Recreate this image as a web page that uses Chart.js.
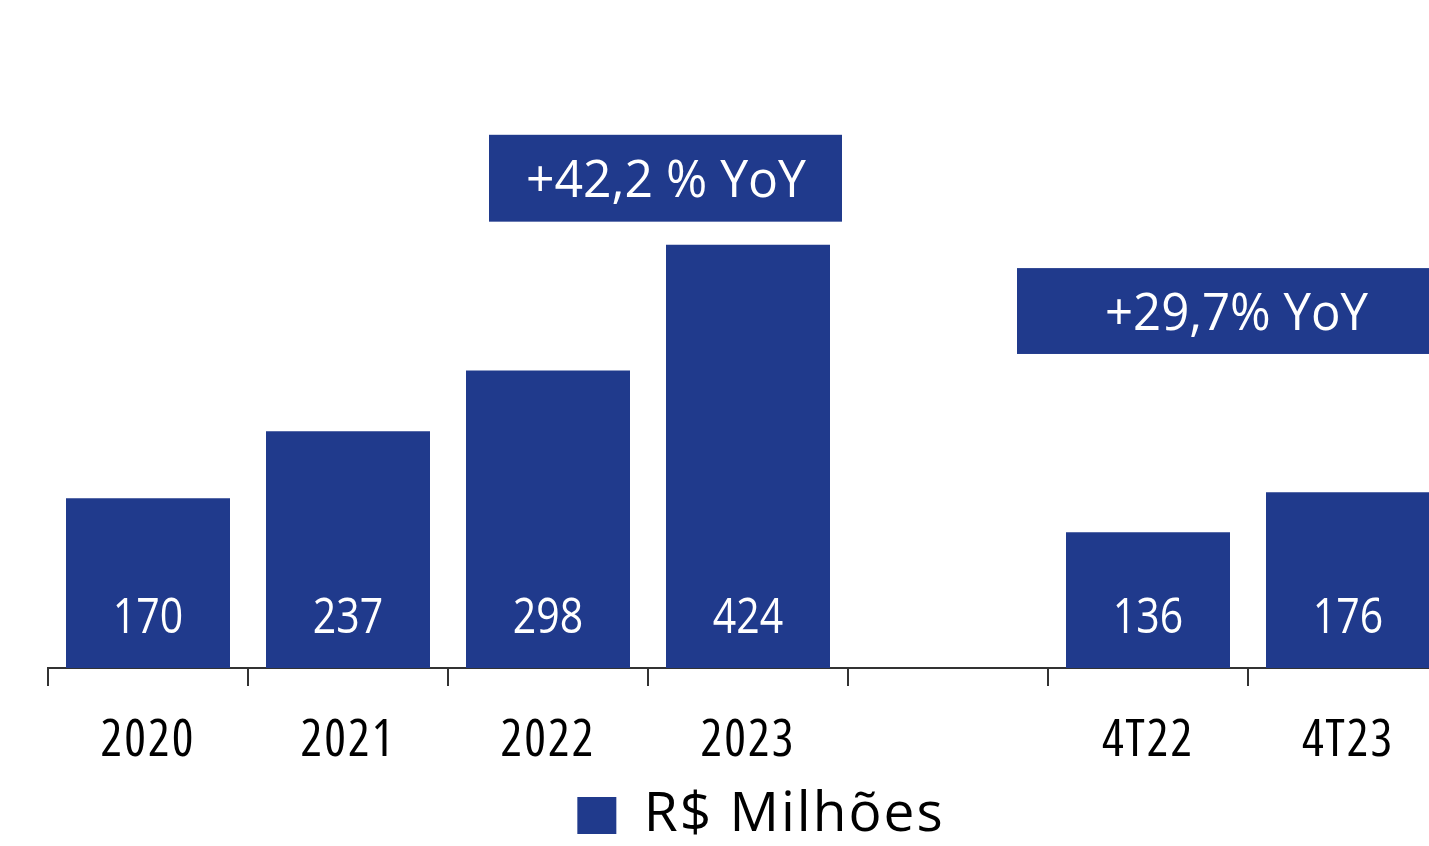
<!DOCTYPE html>
<html>
<head>
<meta charset="utf-8">
<script src="https://cdn.jsdelivr.net/npm/chart.js@4/dist/chart.umd.min.js"></script>
<style>
  html, body { margin: 0; padding: 0; background: #fff; overflow: hidden; }
  #wrap { width: 1454px; height: 846px; }
</style>
</head>
<body>
<div id="wrap"><canvas id="c" width="1454" height="846"></canvas></div>
<script>
// Receita anual e trimestral (R$ milhões)
const categories = ['2020', '2021', '2022', '2023', '', '4T22', '4T23'];
const revenue = [170, 237, 298, 424, null, 136, 176];
const seriesName = 'R$ Milhões';
const growthLabels = ['+42,2 % YoY', '+29,7% YoY'];

const BLUE = '#203A8C';
const FAMILY = '"Open Sans", "Noto Sans", sans-serif';

// Growth call-outs, placed in scale units (category index / value)
const callouts = [
  { text: growthLabels[0], xMin: 1.705, xMax: 3.47, yMin: 447, yMax: 534, textX: 2.59, width: 280 },
  { text: growthLabels[1], xMin: 4.345, xMax: 6.6, yMin: 314.5, yMax: 400.5, textX: 5.4425, width: 263 }
];

// Draws text horizontally condensed so it fits the given width
function condensedText(ctx, text, cx, baseline, maxWidth) {
  const w = ctx.measureText(text).width;
  const sx = Math.min(1, maxWidth / w);
  ctx.save();
  ctx.translate(cx, baseline);
  ctx.scale(sx, 1);
  ctx.fillText(text, 0, 0);
  ctx.restore();
}

// Slight tracking for axis and legend labels
const tracking = {
  id: 'tracking',
  beforeDraw(chart) { if ('letterSpacing' in chart.ctx) chart.ctx.letterSpacing = '2px'; },
  afterDraw(chart) { if ('letterSpacing' in chart.ctx) chart.ctx.letterSpacing = '0px'; }
};

const overlay = {
  id: 'overlay',
  afterDatasetsDraw(chart) {
    const { ctx, scales: { x, y } } = chart;
    const meta = chart.getDatasetMeta(0);
    const base = y.getPixelForValue(0);
    ctx.save();
    if ('letterSpacing' in ctx) ctx.letterSpacing = '0px';
    ctx.textAlign = 'center';
    ctx.textBaseline = 'alphabetic';
    ctx.fillStyle = '#fff';
    ctx.font = '50px ' + FAMILY;
    meta.data.forEach((bar, i) => {
      const v = revenue[i];
      if (v == null) return;
      const s = String(v);
      condensedText(ctx, s, bar.x, base - 35, ctx.measureText(s).width * 0.82);
    });
    callouts.forEach(c => {
      const l = x.getPixelForValue(c.xMin), r = x.getPixelForValue(c.xMax);
      const t = y.getPixelForValue(c.yMax), b = y.getPixelForValue(c.yMin);
      ctx.fillStyle = BLUE;
      ctx.fillRect(l, t, r - l, b - t);
      ctx.fillStyle = '#fff';
      ctx.font = '52px ' + FAMILY;
      condensedText(ctx, c.text, x.getPixelForValue(c.textX), (t + b) / 2 + 18.5, c.width);
    });
    ctx.restore();
  }
};

function draw() {
  new Chart(document.getElementById('c'), {
    type: 'bar',
    data: {
      labels: categories,
      datasets: [{
        label: seriesName,
        data: revenue,
        backgroundColor: BLUE,
        borderWidth: 0,
        categoryPercentage: 1,
        barPercentage: 0.82
      }]
    },
    options: {
      responsive: false,
      animation: false,
      layout: { padding: { left: 48, right: 0, top: 0, bottom: -7 } },
      plugins: {
        tooltip: { enabled: false },
        legend: {
          position: 'bottom',
          labels: {
            boxWidth: 39, boxHeight: 37, padding: 0,
            color: '#000',
            font: { family: FAMILY, size: 55 }
          }
        }
      },
      scales: {
        x: {
          offset: true,
          grid: { offset: true, display: true, drawOnChartArea: false, drawTicks: true, tickLength: 18, color: '#333', lineWidth: 2 },
          border: { display: true, color: '#333', width: 2 },
          ticks: { color: '#000', font: { family: FAMILY, size: 51, weight: 'condensed' }, padding: 25, maxRotation: 0, autoSkip: false },
          afterFit(s) { s.height = 120; }
        },
        y: {
          position: 'right',
          min: 0, max: 669,
          ticks: { display: false },
          grid: { display: false },
          border: { display: false },
          afterFit(s) { s.width = 6; }
        }
      }
    },
    plugins: [tracking, overlay]
  });
}

if (document.fonts && document.fonts.load) {
  document.fonts.load('56px "Open Sans"').then(draw, draw);
} else {
  draw();
}
</script>
</body>
</html>
